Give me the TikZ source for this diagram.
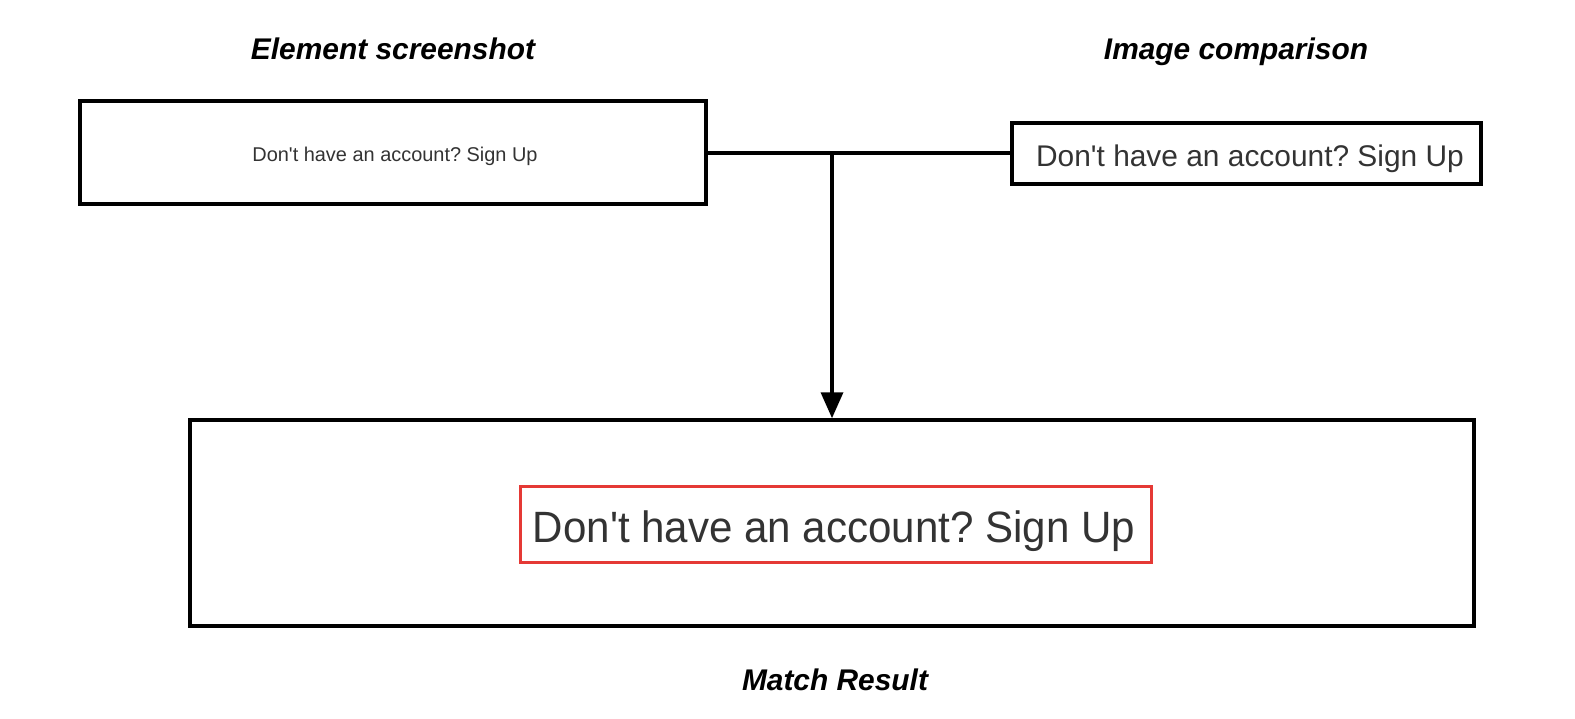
\documentclass[tikz,border=0pt]{standalone}
\usepackage{fontspec}
\setmainfont{Liberation Sans}
\newfontfamily\uifont{Liberation Sans}[Ligatures=TeXOff]
\usetikzlibrary{arrows.meta}
\definecolor{uitext}{HTML}{333333}
\definecolor{redframe}{HTML}{E53935}
\newcommand{\signup}{\frenchspacing Don\textquotesingle t have an account? Sign Up}
\tikzset{
  box/.style={draw=black, line width=3.5bp, inner sep=0pt},
  title/.style={font=\fontsize{30}{34}\selectfont\bfseries\itshape, text=black, anchor=base},
  uitxt/.style={text=uitext, anchor=base, inner sep=0pt},
  conn/.style={line width=3.5bp},
}
\begin{document}
\begin{tikzpicture}[x=1bp,y=-1bp]
\useasboundingbox (0,0) rectangle (1575,719);
% boxes
\node[box, minimum width=626bp, minimum height=103bp] (es) at (393,152.5) {};
\node[uitxt, font=\uifont\fontsize{20}{22}\selectfont] (estxt) at (395,161) {\signup};
\node[box, minimum width=469bp, minimum height=61bp] (ic) at (1246.5,153.5) {};
\node[uitxt, font=\uifont\fontsize{30}{34}\selectfont, xscale=1.0] (ictxt) at (1250,166) {\signup};
\node[box, minimum width=1284bp, minimum height=206bp] (mr) at (832,523) {};
\node[draw=redframe, line width=3bp, minimum width=631bp, minimum height=76bp, inner sep=0pt] (red) at (835.5,524) {};
\node[uitxt, font=\uifont\fontsize{44}{48}\selectfont, xscale=0.96] (mrtxt) at (834,542) {\signup};
% titles
\node[title] (t1) at (393,60) {Element screenshot};
\node[title] (t2) at (1236,60) {Image comparison};
\node[title] (t3) at (835,690) {Match Result};
% connectors
\coordinate (j) at (832,153);
\draw[conn] (es.east |- j) -- (ic.west |- j);
\draw[conn, -{Triangle[length=26bp,width=22bp]}] (j) -- (mr.north -| j);
\end{tikzpicture}
\end{document}
